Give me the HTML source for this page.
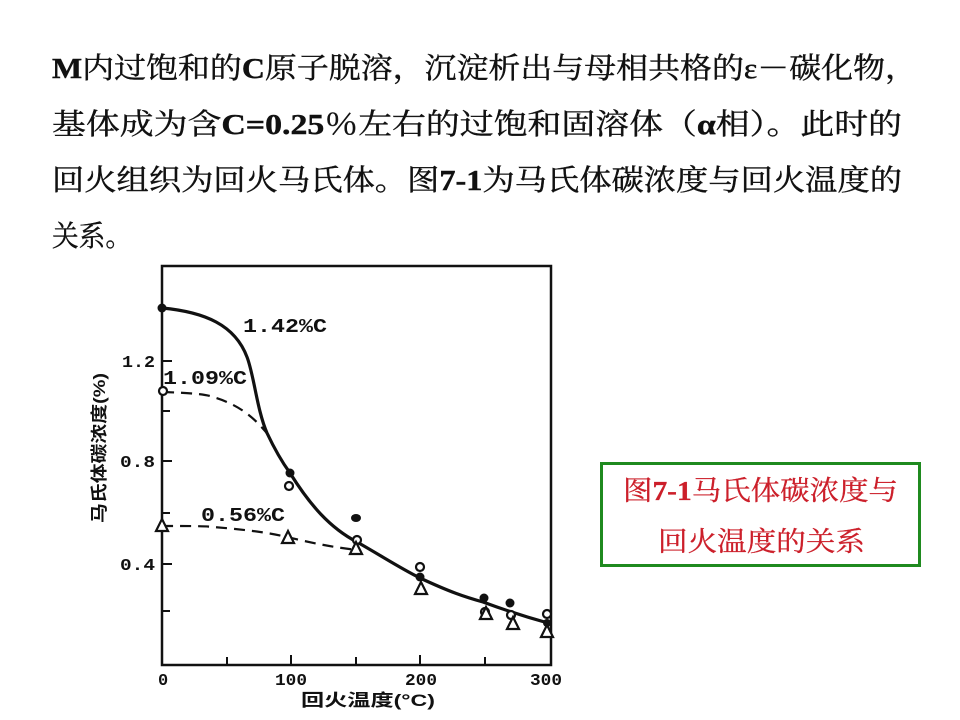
<!DOCTYPE html>
<html><head><meta charset="utf-8"><style>
html,body{margin:0;padding:0;background:#fff;}
svg{display:block}
.t{font-family:"Liberation Serif","Noto Serif CJK SC",serif;font-size:29px;fill:#111;stroke:#111;stroke-width:0.4;}
.a{font-family:"Liberation Mono","DejaVu Sans Mono",monospace;font-weight:bold;fill:#111;}
.c{font-family:"Liberation Sans","Noto Sans CJK SC",sans-serif;font-size:17px;font-weight:bold;fill:#111;}
.r{font-family:"Liberation Serif","Noto Serif CJK SC",serif;font-size:27px;fill:#cc1f2a;stroke:#cc1f2a;stroke-width:0.3;}
</style></head><body>
<svg width="960" height="720" viewBox="0 0 960 720" xmlns="http://www.w3.org/2000/svg">
<rect width="960" height="720" fill="#fff"/>
<text class="t" x="52" y="78" textLength="865" lengthAdjust="spacingAndGlyphs"><tspan font-weight="bold">M</tspan>内过饱和的<tspan font-weight="bold">C</tspan>原子脱溶，沉淀析出与母相共格的ε－碳化物，</text>
<text class="t" x="52" y="134" textLength="850" lengthAdjust="spacingAndGlyphs">基体成为含<tspan font-weight="bold">C=0.25</tspan>％左右的过饱和固溶体（<tspan font-weight="bold">α</tspan>相）。此时的</text>
<text class="t" x="52" y="190" textLength="850" lengthAdjust="spacingAndGlyphs">回火组织为回火马氏体。图<tspan font-weight="bold">7-1</tspan>为马氏体碳浓度与回火温度的</text>
<text class="t" x="52" y="246" textLength="80" lengthAdjust="spacingAndGlyphs">关系。</text>

<g stroke="#111" fill="none">
<rect x="162" y="266" width="389" height="399" stroke-width="2.5"/>
<g stroke-width="2">
<line x1="162" y1="361" x2="172" y2="361"/><line x1="162" y1="411" x2="170" y2="411"/>
<line x1="162" y1="461" x2="172" y2="461"/><line x1="162" y1="513" x2="170" y2="513"/>
<line x1="162" y1="564" x2="172" y2="564"/><line x1="162" y1="611" x2="170" y2="611"/>
<line x1="227" y1="665" x2="227" y2="657"/><line x1="291" y1="665" x2="291" y2="655"/>
<line x1="356" y1="665" x2="356" y2="657"/><line x1="420" y1="665" x2="420" y2="655"/>
<line x1="485" y1="665" x2="485" y2="657"/>
</g>
<path d="M162,308 C205,312 235,325 247,357 C254,375 257,410 267,433 C275,450 282,462 290,473 C310,505 330,528 357,542 C385,558 400,568 420,578 C450,592 465,597 483,602 C510,612 530,618 548,623" stroke-width="3.2"/>
<path d="M163,392 C190,393 205,394 213,397 C240,405 255,418 270,437" stroke-width="2.2" stroke-dasharray="11,7"/>
<path d="M162,526 C190,526 205,526 213,527 C250,530 270,533 287,537 C320,545 340,548 357,550" stroke-width="2.2" stroke-dasharray="11,7"/>
</g>
<g fill="#111">
<circle cx="162" cy="308" r="4.5"/><circle cx="290" cy="473" r="4.5"/><ellipse cx="356" cy="518" rx="5" ry="4"/>
<circle cx="420" cy="577" r="4.5"/><circle cx="484" cy="598" r="4.5"/><circle cx="510" cy="603" r="4.5"/><circle cx="547" cy="623" r="4"/>
</g>
<g fill="#fff" stroke="#111" stroke-width="2.2">
<circle cx="163" cy="391" r="4"/><circle cx="289" cy="486" r="4"/><circle cx="357" cy="540" r="4"/>
<circle cx="420" cy="567" r="4"/><circle cx="485" cy="612" r="4"/><circle cx="511" cy="615" r="4"/><circle cx="547" cy="614" r="4"/>
<polygon points="162,519 156,531 168,531"/><polygon points="288,531 282,543 294,543"/><polygon points="356,542 350,554 362,554"/>
<polygon points="421,582 415,594 427,594"/><polygon points="486,607 480,619 492,619"/><polygon points="513,617 507,629 519,629"/><polygon points="547,625 541,637 553,637"/>
</g>
<text class="a" x="243" y="332" font-size="19" textLength="84" lengthAdjust="spacingAndGlyphs">1.42%C</text>
<text class="a" x="163" y="384" font-size="19" textLength="84" lengthAdjust="spacingAndGlyphs">1.09%C</text>
<text class="a" x="201" y="521" font-size="19" textLength="84" lengthAdjust="spacingAndGlyphs">0.56%C</text>
<text class="a" x="122" y="367" font-size="17" textLength="33" lengthAdjust="spacingAndGlyphs">1.2</text>
<text class="a" x="120" y="467" font-size="17" textLength="35" lengthAdjust="spacingAndGlyphs">0.8</text>
<text class="a" x="120" y="570" font-size="17" textLength="35" lengthAdjust="spacingAndGlyphs">0.4</text>
<text class="a" x="158" y="685" font-size="17">0</text>
<text class="a" x="275" y="685" font-size="17" textLength="32" lengthAdjust="spacingAndGlyphs">100</text>
<text class="a" x="405" y="685" font-size="17" textLength="32" lengthAdjust="spacingAndGlyphs">200</text>
<text class="a" x="530" y="685" font-size="17" textLength="32" lengthAdjust="spacingAndGlyphs">300</text>
<text class="c" x="301" y="706" textLength="134" lengthAdjust="spacingAndGlyphs">回火温度(°C)</text>
<text class="c" transform="translate(105,523) rotate(-90)" textLength="150" lengthAdjust="spacingAndGlyphs">马氏体碳浓度(%)</text>

<rect x="601.5" y="463.5" width="318" height="102" fill="#fff" stroke="#1f8a1f" stroke-width="3"/>
<text class="r" x="623" y="500" textLength="275" lengthAdjust="spacingAndGlyphs">图<tspan font-weight="bold">7-1</tspan>马氏体碳浓度与</text>
<text class="r" x="658" y="551" textLength="207" lengthAdjust="spacingAndGlyphs">回火温度的关系</text>
</svg>
</body></html>
